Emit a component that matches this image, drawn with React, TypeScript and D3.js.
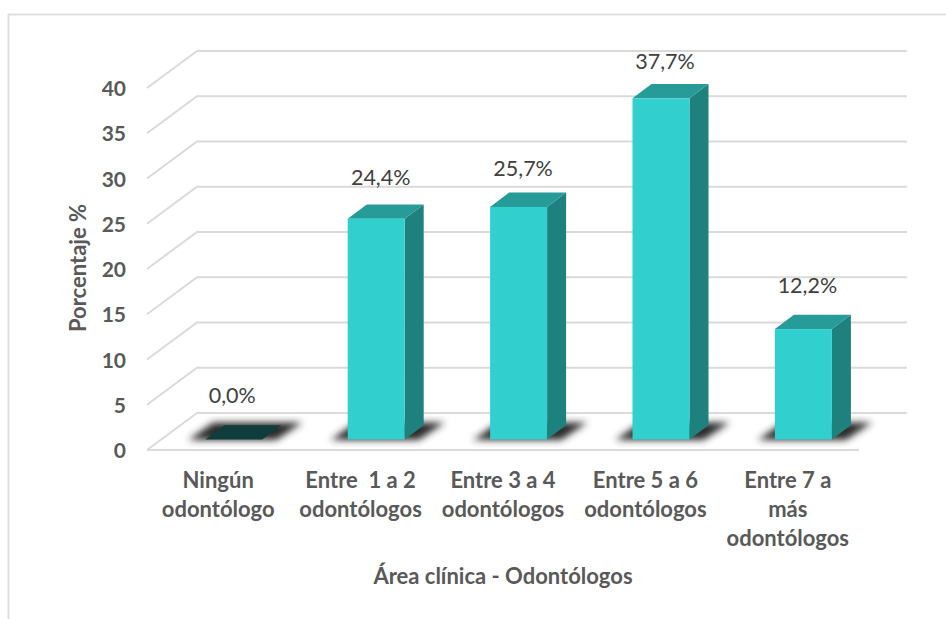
import React from "react";
import * as d3 from "d3";

// Share of clinical areas by number of dentists, in percent
const categories = ["Ningún odontólogo", "Entre  1 a 2 odontólogos", "Entre 3 a 4 odontólogos", "Entre 5 a 6 odontólogos", "Entre 7 a más odontólogos"];
const categoryLines = [
  ["Ningún", "odontólogo"],
  ["Entre  1 a 2", "odontólogos"],
  ["Entre 3 a 4", "odontólogos"],
  ["Entre 5 a 6", "odontólogos"],
  ["Entre 7 a", "más", "odontólogos"],
];
const values = [0, 24.4, 25.7, 37.7, 12.2];
const valueLabels = ["0,0%", "24,4%", "25,7%", "37,7%", "12,2%"];
const ticks = [0, 5, 10, 15, 20, 25, 30, 35, 40];

const FONT = "Lato, 'Open Sans', sans-serif";
const GRID = "#dadada";
const AXIS_TEXT = "#595959";

// Oblique projection of the chart's box
const wallDx = 50;
const wallDy = -37;
const barDx = 19;
const barDy = -14.3;
const barWidth = 57;

const y = d3.scaleLinear().domain([0, 40]).range([450, 88]);
const x = d3.scaleBand<string>().domain(categories).range([147, 859]);
const baseShift = 10.5; // bars stand this far up the floor
const barLeft = (c: string) => (x(c) as number) + (x.bandwidth() - barWidth) / 2 + 15.6;

// Value labels sit above each bar's top face, each placed by hand
const labelGap = [22, 19.5, 17, 15.5, 21.5];
const labelShift = [27, 33, 33, 32.5, 32.5];

const poly = (pts: [number, number][]) => (d3.line()(pts) as string) + "Z";

export default function App() {
  const yBase = y(0) - baseShift;
  const heightOf = (v: number) => y(0) - y(v);
  return (
    <svg
      width={946}
      height={619}
      style={{ position: "absolute", left: 0, top: 0, background: "#fff" }}
      fontFamily={FONT}
    >
      <defs>
        <filter id="floorShadow" x="-30%" y="-80%" width="160%" height="260%">
          <feGaussianBlur stdDeviation="3.6" />
        </filter>
      </defs>

      {/* frame */}
      <path d="M8.5,619V14.5H946" fill="none" stroke={GRID} strokeWidth={2} opacity={0.9} />

      {/* walls */}
      {ticks.map((t) => {
        const pts: [number, number][] = [
          [x.range()[0], y(t)],
          [x.range()[0] + wallDx, y(t) + wallDy],
          [907, y(t) + wallDy],
        ];
        return <path key={t} d={d3.line()(pts) as string} fill="none" stroke={GRID} strokeWidth={2} />;
      })}
      <line x1={x.range()[0]} x2={x.range()[1]} y1={y(0)} y2={y(0)} stroke={GRID} strokeWidth={2} />

      {/* floor shadows */}
      {categories.map((c) => {
        const l = barLeft(c);
        return (
          <path
            key={c}
            d={poly([
              [l - 17, yBase + 0.5],
              [l + barWidth + 14, yBase + 0.5],
              [l + barWidth + 40, yBase - 17],
              [l + 8, yBase - 17],
            ])}
            fill="#2a2a2a"
            filter="url(#floorShadow)"
          />
        );
      })}

      {/* bars */}
      {categories.map((c, i) => {
        const l = barLeft(c);
        const h = heightOf(values[i]);
        const top = yBase - h;
        if (values[i] === 0) {
          return (
            <path
              key={c}
              d={poly([
                [l, yBase],
                [l + barWidth, yBase],
                [l + barWidth + barDx, yBase + barDy],
                [l + barDx, yBase + barDy],
              ])}
              fill="#0f3d3b"
            />
          );
        }
        return (
          <g key={c}>
            <path
              d={poly([
                [l + barWidth, top],
                [l + barWidth + barDx, top + barDy],
                [l + barWidth + barDx, yBase + barDy],
                [l + barWidth, yBase],
              ])}
              fill="#1f817e"
            />
            <path
              d={poly([
                [l, top],
                [l + barDx, top + barDy],
                [l + barWidth + barDx, top + barDy],
                [l + barWidth, top],
              ])}
              fill="#269b98"
            />
            <rect x={l} y={top} width={barWidth} height={h} fill="#31d0cf" />
          </g>
        );
      })}

      {/* value labels */}
      {categories.map((c, i) => (
        <text
          key={c}
          x={barLeft(c) + labelShift[i]}
          y={yBase - heightOf(values[i]) + barDy - labelGap[i]}
          textAnchor="middle"
          fontSize={21.5}
          fill="#404040"
        >
          {valueLabels[i]}
        </text>
      ))}

      {/* value axis */}
      {ticks.map((t) => (
        <text
          key={t}
          x={126}
          y={y(t) + 0.8}
          dy="0.35em"
          textAnchor="end"
          fontSize={21}
          fontWeight={700}
          fill={AXIS_TEXT}
        >
          {t}
        </text>
      ))}
      <text
        transform="translate(85.5,268) rotate(-90)"
        textAnchor="middle"
        fontSize={22}
        fontWeight={700}
        fill={AXIS_TEXT}
      >
        Porcentaje %
      </text>

      {/* category axis */}
      {categories.map((c, i) => {
        const cx = (x(c) as number) + x.bandwidth() / 2;
        return (
          <text key={c} textAnchor="middle" fontSize={22} fontWeight={700} fill={AXIS_TEXT}>
            {categoryLines[i].map((line, j) => (
              <tspan key={j} x={cx} y={488 + j * 29} xmlSpace="preserve">
                {line}
              </tspan>
            ))}
          </text>
        );
      })}
      <text x={503} y={584} textAnchor="middle" fontSize={22} fontWeight={700} fill={AXIS_TEXT}>
        Área clínica - Odontólogos
      </text>
    </svg>
  );
}
